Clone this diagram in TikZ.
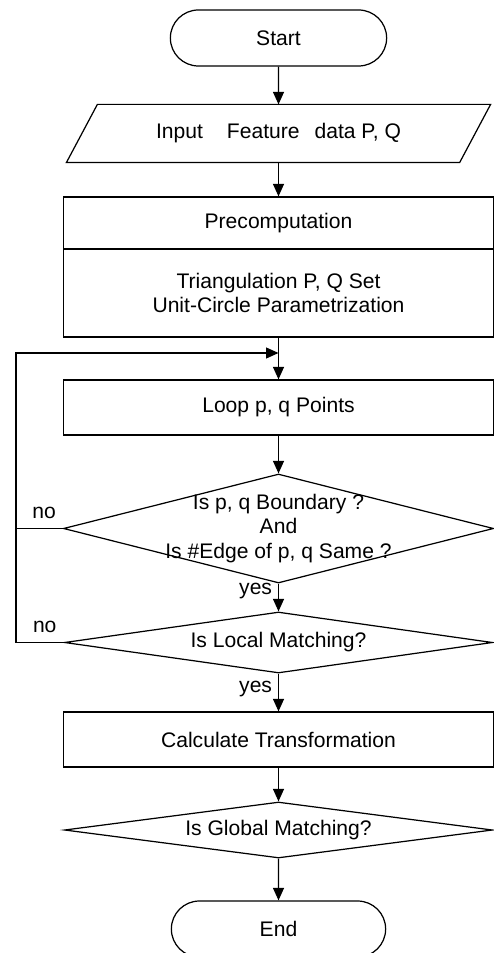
\documentclass[tikz,border=0pt]{standalone}
\usepackage{fontspec}
\setmainfont{Liberation Sans}
\usetikzlibrary{arrows.meta,shapes.geometric,shapes.misc}
\begin{document}
\begin{tikzpicture}[x=1cm,y=1cm,line width=0.7pt,
  every node/.style={font=\fontsize{12}{14}\selectfont},
  term/.style={draw,rounded rectangle,minimum width=4.56cm,minimum height=1.12cm},
  io/.style={rectangle,minimum width=7.84cm,minimum height=1.14cm},
  proc/.style={draw,rectangle,minimum width=8.6cm,align=center},
  decision/.style={draw,diamond,inner sep=0pt,minimum width=8.56cm},
  txt/.style={align=center},
  arr/.style={-{Triangle[length=0.25cm,width=0.22cm]}}]
\useasboundingbox (0,0) rectangle (9.88,-19.06);
\node[term] (start) at (5.57,-0.76) {Start};
\node[io] (in) at (5.57,-2.67) {Input\hspace{0.48cm}Feature\hspace{0.3cm}data P, Q};
\draw ([xshift=0.31cm]in.north west) -- ([xshift=0.31cm]in.north east) -- ([xshift=-0.31cm]in.south east) -- ([xshift=-0.31cm]in.south west) -- cycle;
\node[proc,minimum height=1.04cm] (pc1) at (5.57,-4.46) {Precomputation};
\node[proc,minimum height=1.76cm] (pc2) at (5.57,-5.86) {Triangulation P, Q Set\\Unit-Circle Parametrization};
\coordinate (j) at (5.57,-7.06); \coordinate (lx) at (0.32,-7.06);
\node[proc,minimum height=1.1cm] (loop) at (5.57,-8.15) {Loop p, q Points};
\node[decision,minimum width=8.6cm,minimum height=2.18cm] (d1) at (5.57,-10.57) {};
\node[txt] (d1t) at (d1) {Is p, q Boundary ?\\And\\Is \#Edge of p, q Same ?};
\node[decision,minimum height=1.22cm] (d2) at (5.57,-12.85) {};
\node[txt] (d2t) at (d2) {Is Local Matching?};
\node[proc,minimum height=1.1cm] (calc) at (5.57,-14.79) {Calculate Transformation};
\node[decision,minimum height=1.12cm] (d3) at (5.57,-16.6) {};
\node[txt] (d3t) at (d3) {Is Global Matching?};
\node[term,minimum width=4.52cm] (end) at (5.57,-18.58) {End};
% main flow
\draw[arr] (start) -- (in); \draw[arr] (in) -- (pc1);
\draw[arr] (pc2) -- (loop); \draw[arr] (loop) -- (d1.north);
\draw[arr] (d1.south) -- node[pos=0.25,left] {yes} (d2.north);
\draw[arr] (d2.south) -- node[pos=0.4,left] {yes} (calc);
\draw[arr] (calc) -- (d3.north); \draw[arr] (d3.south) -- (end);
% loop back
\draw (d1.west) -- node[pos=0.4,above,yshift=2pt] {no} (d1.west -| lx);
\draw[arr] (d2.west) -- node[pos=0.4,above,yshift=2pt] {no} (d2.west -| lx) -- (lx) -- (j);
\end{tikzpicture}
\end{document}
